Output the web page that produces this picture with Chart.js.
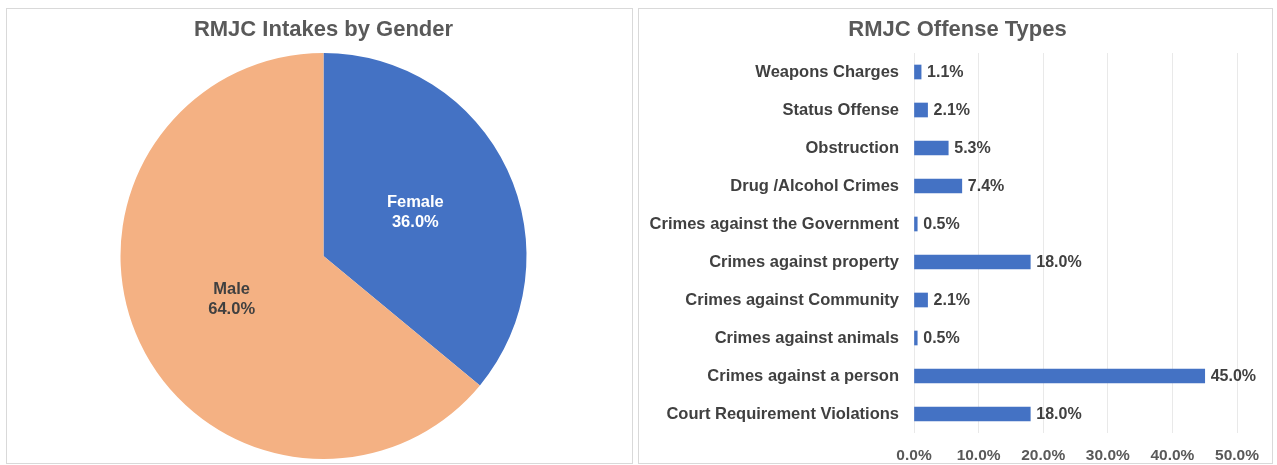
<!DOCTYPE html>
<html>
<head>
<meta charset="utf-8">
<script src="https://cdn.jsdelivr.net/npm/chart.js@4"></script>
<style>
  html, body { margin: 0; padding: 0; background: #fff; }
  #wrap { position: relative; width: 1277px; height: 465px; }
  .panel { position: absolute; border: 1px solid #d9d9d9; box-sizing: border-box; background: #fff; }
  #leftPanel { left: 6px; top: 8px; width: 627px; height: 456px; }
  #rightPanel { left: 638px; top: 8px; width: 635px; height: 456px; }
  canvas { display: block; }
</style>
</head>
<body>
<div id="wrap">
  <div class="panel" id="leftPanel"><canvas id="pie"></canvas></div>
  <div class="panel" id="rightPanel"><canvas id="bars"></canvas></div>
</div>
<script>
const genderLabels = ['Female', 'Male'];
const genderValues = [36.0, 64.0];
const genderColors = ['#4472c4', '#f4b183'];
const genderTextColors = ['#ffffff', '#404040'];

const offenseLabels = [
  'Weapons Charges',
  'Status Offense',
  'Obstruction',
  'Drug /Alcohol Crimes',
  'Crimes against the Government',
  'Crimes against property',
  'Crimes against Community',
  'Crimes against animals',
  'Crimes against a person',
  'Court Requirement Violations'
];
const offenseValues = [1.1, 2.1, 5.3, 7.4, 0.5, 18.0, 2.1, 0.5, 45.0, 18.0];
const axisTicks = [0, 10, 20, 30, 40, 50];

const FONT = "'Liberation Sans', Arial, sans-serif";

const pctText = v => v.toFixed(1) + '%';

// labels inside the pie slices
const pieLabelPlugin = {
  id: 'pieLabels',
  afterDatasetsDraw: chart => {
    const ctx = chart.ctx;
    const meta = chart.getDatasetMeta(0);
    ctx.save();
    ctx.font = 'bold 16.5px ' + FONT;
    ctx.textAlign = 'center';
    ctx.textBaseline = 'middle';
    meta.data.forEach((arc, i) => {
      const mid = (arc.startAngle + arc.endAngle) / 2;
      const r = arc.outerRadius * 0.5;
      const x = arc.x + Math.cos(mid) * r;
      const y = arc.y + Math.sin(mid) * r;
      ctx.fillStyle = genderTextColors[i];
      ctx.fillText(genderLabels[i], x, y - 10);
      ctx.fillText(pctText(genderValues[i]), x, y + 10);
    });
    ctx.restore();
  }
};

// value labels at the end of each bar
const barLabelPlugin = {
  id: 'barLabels',
  afterDatasetsDraw: chart => {
    const ctx = chart.ctx;
    const meta = chart.getDatasetMeta(0);
    ctx.save();
    ctx.font = 'bold 16px ' + FONT;
    ctx.fillStyle = '#404040';
    ctx.textAlign = 'left';
    ctx.textBaseline = 'middle';
    meta.data.forEach((bar, i) => {
      ctx.fillText(pctText(offenseValues[i]), bar.x + 6, bar.y + 1);
    });
    ctx.restore();
  }
};

// bar chart title centred on the whole panel, not the padded layout box
const panelTitlePlugin = {
  id: 'panelTitle',
  afterDraw: (chart, args, opts) => {
    const ctx = chart.ctx;
    ctx.save();
    ctx.font = 'bold 22px ' + FONT;
    ctx.fillStyle = '#595959';
    ctx.textAlign = 'center';
    ctx.textBaseline = 'middle';
    ctx.fillText(opts.text, chart.width / 2 + 2, 21);
    ctx.restore();
  }
};

const titleOpts = text => ({
  display: true,
  text: text,
  color: '#595959',
  font: { family: FONT, size: 22, weight: 'bold', lineHeight: 1.2 },
  padding: { top: 8, bottom: 9.6 }
});

function renderPie() {
  const canvas = document.getElementById('pie');
  canvas.width = 625;
  canvas.height = 454;
  new Chart(canvas.getContext('2d'), {
    type: 'pie',
    data: {
      labels: genderLabels,
      datasets: [{
        data: genderValues,
        backgroundColor: genderColors,
        borderWidth: 0
      }]
    },
    options: {
      responsive: false,
      animation: false,
      layout: { padding: { left: 8, right: 0, top: 0, bottom: 4 } },
      plugins: {
        legend: { display: false },
        tooltip: { enabled: false },
        title: titleOpts('RMJC Intakes by Gender')
      }
    },
    plugins: [pieLabelPlugin]
  });
}

function renderBars() {
  const canvas = document.getElementById('bars');
  canvas.width = 633;
  canvas.height = 454;
  new Chart(canvas.getContext('2d'), {
    type: 'bar',
    data: {
      labels: offenseLabels,
      datasets: [{
        data: offenseValues,
        backgroundColor: '#4472c4',
        barThickness: 14
      }]
    },
    options: {
      indexAxis: 'y',
      responsive: false,
      animation: false,
      layout: { padding: { left: 0, right: 34, top: 44, bottom: 0 } },
      scales: {
        x: {
          min: 0,
          max: 50,
          afterBuildTicks: scale => {
            scale.ticks = axisTicks.map(v => ({ value: v }));
          },
          afterFit: scale => { scale.height = 30; },
          grid: { color: '#e9e9e9', drawTicks: false },
          border: { display: false },
          ticks: {
            padding: 13,
            color: '#595959',
            font: { family: FONT, size: 15.5, weight: 'bold' },
            callback: v => pctText(v)
          }
        },
        y: {
          afterFit: scale => { scale.width = 275; },
          grid: { display: false, drawTicks: false },
          border: { display: false },
          ticks: {
            padding: 15,
            color: '#404040',
            font: { family: FONT, size: 16.5, weight: 'bold' }
          }
        }
      },
      plugins: {
        legend: { display: false },
        tooltip: { enabled: false },
        title: { display: false },
        panelTitle: { text: 'RMJC Offense Types' }
      }
    },
    plugins: [barLabelPlugin, panelTitlePlugin]
  });
}

renderPie();
renderBars();
</script>
</body>
</html>
